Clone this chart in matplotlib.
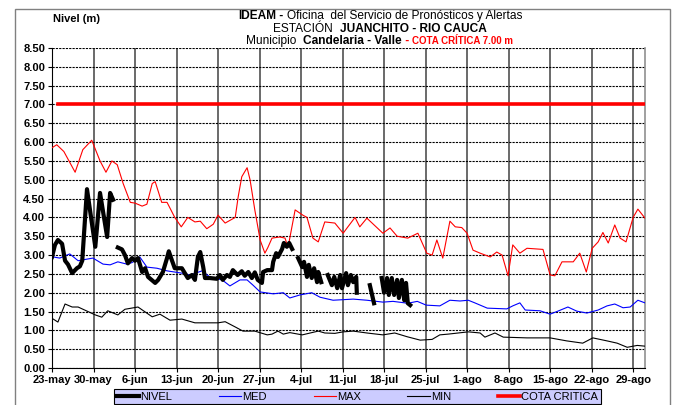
import numpy as np
import matplotlib
matplotlib.use('Agg')
import matplotlib.pyplot as plt
from matplotlib.lines import Line2D
from matplotlib.patches import Rectangle

plt.rcParams['font.family'] = ['Liberation Sans', 'DejaVu Sans']

# days counted from 23-may
week_ticks = [0, 7, 14, 21, 28, 35, 42, 49, 56, 63, 70, 77, 84, 91, 98]
week_labels = ['23-may', '30-may', '6-jun', '13-jun', '20-jun', '27-jun', '4-jul',
               '11-jul', '18-jul', '25-jul', '1-ago', '8-ago', '15-ago', '22-ago', '29-ago']

nivel_days = [0, 0.5, 1.0, 1.7, 2.2, 2.7, 3.4, 4.2, 4.7, 5.1, 5.9, 7.3, 8.1, 9.3, 9.8, 10.3, 10.7,
              11.1, 11.8, 12.3, 12.8, 13.5, 14, 14.5, 15.2, 15.7, 16.2, 17.4, 17.9, 18.7, 19.4,
              19.7, 20.2, 20.7, 21.9, 22.4, 22.9, 23.6, 24.1, 24.6, 25, 25.5, 25.8, 26.6, 27.8,
              28.3, 28.8, 29.5, 30, 30.5, 31.3, 32, 32.5, 33.1, 33.7, 34.2, 34.7, 35.4, 35.6,
              36.3, 37.1, 37.3, 37.8, 38.1, 38.8, 39.1, 39.6, 40, 40.5, 41,
              41.5, 42.2, 42.5, 43, 43.3, 43.8, 44.2, 44.7, 44.9, 45.4, 46,
              46.5, 47.2, 47.6, 48.1, 48.6, 48.9, 49.6, 49.9, 50.4, 50.8, 51.3, 51.4, 52,
              53.6, 54.3, 55,
              55.6, 56, 56.5, 56.8, 57.3, 57.7, 58.2, 58.5, 59, 59.4, 59.7, 60, 60.4]
nivel_vals = [2.95, 3.27, 3.4, 3.3, 2.85, 2.75, 2.52, 2.65, 2.7, 2.85, 4.75, 3.22, 4.65, 3.48, 4.65, 4.47, np.nan,
              3.2, 3.15, 3.0, 2.78, 2.92, 2.85, 2.92, 2.55, 2.65, 2.42, 2.26, 2.34, 2.55, 2.92,
              3.1, 2.87, 2.65, 2.65, 2.52, 2.39, 2.47, 2.34, 2.95, 3.08, 2.68, 2.39, 2.39, 2.37,
              2.47, 2.34, 2.47, 2.42, 2.6, 2.47, 2.57, 2.45, 2.55, 2.39, 2.54, 2.34, 2.26, 2.55,
              2.6, 2.6, 2.82, 3.05, 2.95, 3.16, 3.32, 3.22, 3.32, 3.16, np.nan,
              2.92, 2.68, 2.82, 2.42, 2.74, 2.39, 2.65, 2.28, 2.55, 2.28, np.nan,
              2.47, 2.2, 2.42, 2.12, 2.47, 2.12, 2.52, 2.2, 2.47, 2.28, 2.42, 2.0, np.nan,
              2.2, 1.72, np.nan,
              2.39, 2.0, 2.39, 1.94, 2.39, 1.94, 2.34, 1.86, 2.34, 1.8, 2.26, 1.72, 1.67]

med_days = [0.2, 1.3, 3.0, 4.4, 6.9, 8.6, 9.8, 11.1, 12.6, 13.5, 14.8, 16, 17.7, 19.4, 21.9,
            23.3, 25.3, 26.6, 28.7, 30, 31.7, 32.9, 33.9, 35.1, 37.3, 39, 40.1, 41.8, 43.8,
            45.2, 47.4, 50.8, 53.1, 55.8, 57.5, 60, 61.6, 63.1, 65.4, 67.1, 68.8, 70.2, 71.3,
            73.4, 76.7, 77.7, 78.9, 79.8, 82.3, 84, 85.3, 87, 88.5, 90.2, 92.1, 93.6, 94.9,
            96.3, 97.5, 98.8, 100]
med_vals = [2.95, 2.92, 3.03, 2.85, 2.92, 2.76, 2.74, 2.82, 2.76, 2.8, 2.95, 2.68, 2.65, 2.58, 2.52,
            2.47, 2.58, 2.42, 2.34, 2.18, 2.34, 2.34, 2.2, 2.02, 1.97, 2.0, 1.86, 1.94, 2.0,
            1.88, 1.8, 1.83, 1.8, 1.75, 1.77, 1.72, 1.77, 1.67, 1.65, 1.8, 1.78, 1.8, 1.73,
            1.59, 1.57, 1.65, 1.73, 1.54, 1.52, 1.43, 1.51, 1.62, 1.51, 1.46, 1.54, 1.65, 1.7,
            1.6, 1.62, 1.8, 1.73]

max_days = [0, 0.8, 2, 3.9, 5.2, 6.7, 8.1, 9.1, 10.1, 11, 12, 13.2, 14, 15.2, 16, 16.9, 17.4,
            18.5, 19.4, 20.7, 21.8, 22.9, 24.1, 25, 26.1, 27.2, 28, 29.2, 30.9, 31.4, 32, 32.9,
            33.4, 34.2, 35.1, 35.9, 36.4, 37.1, 38.4, 39.3, 39.8, 41, 42.3, 43, 44, 44.9, 46,
            47.7, 49.1, 49.9, 51.1, 51.9, 53.1, 55.8, 57, 58.2, 60, 61.7, 63.2, 64.1, 64.9,
            65.9, 67.1, 68, 69.1, 70, 71, 72.2, 73.9, 75, 75.9, 76.9, 77.7, 78.9, 80.1, 82.8,
            84, 84.8, 86, 87.9, 89, 90.1, 91.1, 92.1, 92.9, 93.8, 94.9, 95.8, 96.8, 98, 98.8, 100]
max_vals = [5.85, 5.93, 5.75, 5.2, 5.8, 6.05, 5.5, 5.2, 5.5, 5.4, 4.9, 4.4, 4.38, 4.3, 4.35, 4.9, 4.95,
            4.4, 4.4, 4.0, 3.75, 4.0, 3.88, 3.9, 3.7, 3.82, 4.06, 3.85, 4.0, 4.55, 5.08, 5.32,
            5.0, 4.2, 3.4, 3.05, 3.2, 3.45, 3.48, 3.45, 3.2, 4.2, 4.06, 4.0, 3.45, 3.35, 3.88,
            3.85, 3.58, 3.75, 4.0, 3.75, 3.98, 3.58, 3.72, 3.5, 3.45, 3.58, 3.05, 3.0, 3.4,
            2.92, 3.9, 3.75, 3.73, 3.58, 3.13, 3.05, 2.95, 3.08, 3.0, 2.45, 3.27, 3.05, 3.18, 3.15,
            2.47, 2.45, 2.82, 2.82, 3.05, 2.55, 3.18, 3.35, 3.6, 3.32, 3.8, 3.45, 3.35, 4.0, 4.22, 3.98]

min_days = [0.2, 1.0, 2.2, 3.4, 4.4, 7.3, 8.4, 9.4, 11.1, 12.3, 14.5, 15.7, 16.9, 18.2, 19.9,
            21.9, 24.1, 28, 29.2, 30.9, 32.2, 34.2, 36.3, 37.1, 38.1, 39, 40.1, 42.2, 44.9, 46,
            47.7, 49.1, 50.8, 53.1, 55.8, 57.8, 59.9, 62.1, 64.1, 65.4, 66.8, 70.2, 72.2, 73,
            74.7, 76.1, 80.1, 84, 86.8, 89.5, 91.2, 93.6, 95.3, 97, 98.7, 100]
min_vals = [1.3, 1.22, 1.7, 1.62, 1.62, 1.41, 1.35, 1.52, 1.41, 1.56, 1.62, 1.49, 1.36, 1.43, 1.27,
            1.3, 1.2, 1.2, 1.23, 1.09, 0.98, 0.98, 0.88, 0.9, 0.98, 0.9, 0.94, 0.88, 0.98, 0.93,
            0.92, 0.96, 0.98, 0.93, 0.88, 0.93, 0.83, 0.74, 0.76, 0.88, 0.9, 0.96, 0.93, 0.82,
            0.93, 0.82, 0.8, 0.8, 0.72, 0.66, 0.8, 0.72, 0.66, 0.55, 0.6, 0.58]

cota_days = [1, 100]
cota_level = 7.0

W, H = 674, 405
fig = plt.figure(figsize=(W / 100, H / 100), dpi=100)
ax = fig.add_axes([52 / W, 1 - 368 / H, (645 - 52) / W, 320 / H])

ax.plot(cota_days, [cota_level] * len(cota_days), color='#ff0000', lw=2.6, zorder=3)
ax.plot(min_days, min_vals, color='black', lw=0.8, zorder=3)
ax.plot(max_days, max_vals, color='#ff0000', lw=0.8, zorder=3)
ax.plot(med_days, med_vals, color='#0000ff', lw=0.8, zorder=3)
ax.plot(nivel_days, nivel_vals, color='black', lw=3.0, zorder=4, solid_joinstyle='round')

ax.set_xlim(0, 100)
ax.set_ylim(0, 8.5)
ax.set_yticks(np.arange(0, 8.51, 0.5))
ax.set_yticklabels(['%.2f' % v for v in np.arange(0, 8.51, 0.5)], fontweight='bold', fontsize=8)
ax.set_xticks(week_ticks)
ax.set_xticklabels(week_labels, fontweight='bold', fontsize=8)
ax.tick_params(axis='both', length=3, width=0.8, pad=2)

ax.set_axisbelow(True)
ax.yaxis.grid(True, color='black', linestyle=(0, (2, 1)), lw=0.8)
ax.xaxis.grid(True, color='#505050', linestyle='-', lw=1.2)
ax.spines['top'].set_visible(False)
ax.spines['right'].set_color('#909090')
ax.spines['right'].set_linewidth(1.2)

# outer frame
fig.patches.append(Rectangle((15 / W, -0.01), (670 - 15) / W, 1 - 9 / H + 0.01,
                             transform=fig.transFigure, fill=False,
                             edgecolor='#808080', lw=1.0))

fig.text(53 / W, 1 - 19 / H, 'Nivel (m)', fontsize=8, fontweight='bold', va='center')

renderer = fig.canvas.get_renderer()


def rich_line(y, parts, xc=380):
    texts = []
    total = 0
    for s, weight, color, size in parts:
        t = fig.text(0, 1 - y / H, s, fontsize=size, fontweight=weight, color=color, va='center')
        w = t.get_window_extent(renderer).width
        texts.append((t, w))
        total += w
    x = xc - total / 2
    for t, w in texts:
        t.set_x(x / W)
        x += w


rich_line(16, [('IDEAM', 'bold', 'black', 8.6), (' - ', 'bold', 'black', 8.6),
               ('Oficina  del Servicio de Pronósticos y Alertas', 'normal', 'black', 8.6)])
rich_line(28.5, [('ESTACIÓN  ', 'normal', 'black', 8.6), ('JUANCHITO - RIO CAUCA', 'bold', 'black', 8.6)])
rich_line(41, [('Municipio  ', 'normal', 'black', 8.6), ('Candelaria - Valle', 'bold', 'black', 8.6),
               (' - ', 'bold', '#ff0000', 8.6), ('COTA CRÍTICA 7.00 m', 'bold', '#ff0000', 7.0)])

handles = [Line2D([], [], color='black', lw=3.0),
           Line2D([], [], color='#0000ff', lw=0.8),
           Line2D([], [], color='#ff0000', lw=0.8),
           Line2D([], [], color='black', lw=0.8),
           Line2D([], [], color='#ff0000', lw=2.6)]
labels = ['NIVEL', 'MED', 'MAX', 'MIN', 'COTA CRITICA']
leg = fig.legend(handles, labels, loc='center', bbox_to_anchor=(357.5 / W, 1 - 396.5 / H),
                 ncol=5, fontsize=8, frameon=True, fancybox=False, facecolor='#ccccff',
                 edgecolor='black', framealpha=1, handlelength=2.0, handletextpad=0.1,
                 columnspacing=4.2, borderpad=0.25)
leg.get_frame().set_linewidth(0.8)

fig.savefig('out.png', dpi=100)
